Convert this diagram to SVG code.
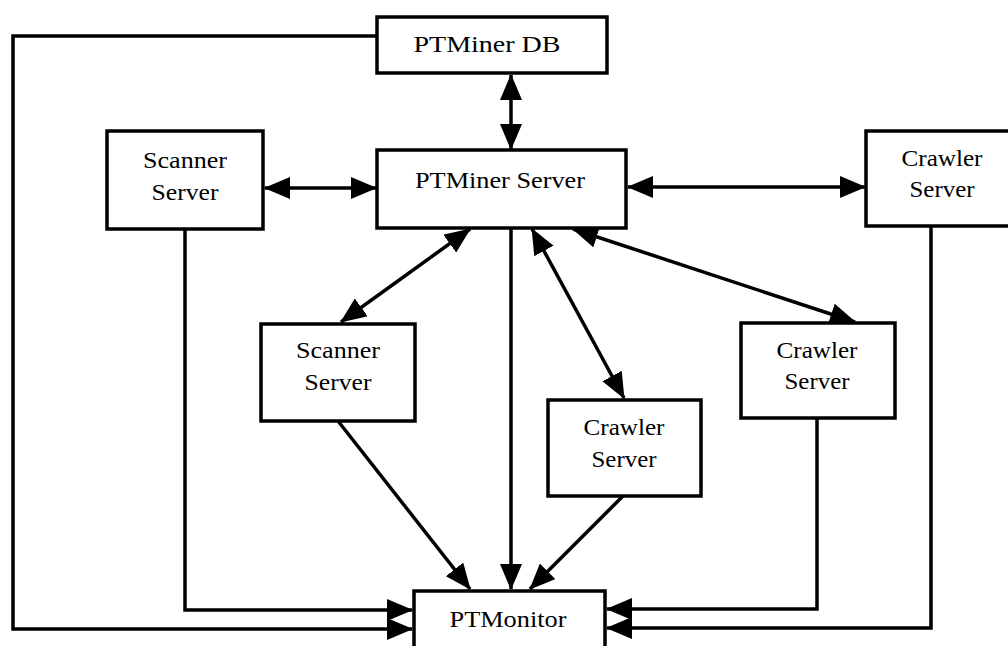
<svg xmlns="http://www.w3.org/2000/svg" width="1008" height="646" viewBox="0 0 1008 646">
<style>
.box{fill:#fff;stroke:#000;stroke-width:3.5}
.t{font-family:"Liberation Serif","Times New Roman",serif;font-size:23px;fill:#000;text-anchor:middle}
.c{fill:none;stroke:#000;stroke-width:3.5}
</style>
<defs>
<marker id="ah" markerUnits="userSpaceOnUse" markerWidth="26" markerHeight="22" refX="25" refY="11" orient="auto-start-reverse" viewBox="0 0 26 22">
<path d="M0,0 L26,11 L0,22 z" fill="#000"/>
</marker>
</defs>
<rect width="1008" height="646" fill="#fff"/>
<g id="connectors">
<line class="c" x1="511" y1="75" x2="511" y2="149" marker-start="url(#ah)" marker-end="url(#ah)"/>
<line class="c" x1="265" y1="188" x2="376" y2="188" marker-start="url(#ah)" marker-end="url(#ah)"/>
<line class="c" x1="628" y1="187" x2="865" y2="187" marker-start="url(#ah)" marker-end="url(#ah)"/>
<line class="c" x1="470" y1="229" x2="341" y2="322" marker-start="url(#ah)" marker-end="url(#ah)"/>
<line class="c" x1="532" y1="229" x2="624" y2="398" marker-start="url(#ah)" marker-end="url(#ah)"/>
<line class="c" x1="573" y1="229" x2="855" y2="322" marker-start="url(#ah)" marker-end="url(#ah)"/>
<line class="c" x1="511" y1="228" x2="511" y2="589" marker-end="url(#ah)"/>
<line class="c" x1="338" y1="421" x2="470" y2="589" marker-end="url(#ah)"/>
<line class="c" x1="623" y1="496" x2="530" y2="589" marker-end="url(#ah)"/>
<polyline class="c" points="185,229 185,610 412,610" marker-end="url(#ah)"/>
<polyline class="c" points="377,36 13,36 13,629 412,629" marker-end="url(#ah)"/>
<polyline class="c" points="817,418 817,609 607,609" marker-end="url(#ah)"/>
<polyline class="c" points="931,226 931,628 607,628" marker-end="url(#ah)"/>
</g>
<g id="ptminer-db">
<rect class="box" x="377" y="17" width="230" height="56"/>
<text class="t" x="487" y="52" textLength="147" lengthAdjust="spacingAndGlyphs">PTMiner DB</text>
</g>
<g id="scanner-server-1">
<rect class="box" x="107" y="131" width="156" height="98"/>
<text class="t" x="185" y="168" textLength="84" lengthAdjust="spacingAndGlyphs">Scanner</text>
<text class="t" x="185" y="200" textLength="67" lengthAdjust="spacingAndGlyphs">Server</text>
</g>
<g id="ptminer-server">
<rect class="box" x="377" y="150" width="249" height="78"/>
<text class="t" x="500" y="188" textLength="170" lengthAdjust="spacingAndGlyphs">PTMiner Server</text>
</g>
<g id="crawler-server-1">
<rect class="box" x="866" y="131" width="160" height="95"/>
<text class="t" x="942" y="166" textLength="81" lengthAdjust="spacingAndGlyphs">Crawler</text>
<text class="t" x="942" y="197" textLength="65" lengthAdjust="spacingAndGlyphs">Server</text>
</g>
<g id="scanner-server-2">
<rect class="box" x="261" y="324" width="154" height="97"/>
<text class="t" x="338" y="358" textLength="84" lengthAdjust="spacingAndGlyphs">Scanner</text>
<text class="t" x="338" y="390" textLength="67" lengthAdjust="spacingAndGlyphs">Server</text>
</g>
<g id="crawler-server-2">
<rect class="box" x="548" y="400" width="153" height="96"/>
<text class="t" x="624" y="435" textLength="81" lengthAdjust="spacingAndGlyphs">Crawler</text>
<text class="t" x="624" y="467" textLength="65" lengthAdjust="spacingAndGlyphs">Server</text>
</g>
<g id="crawler-server-3">
<rect class="box" x="741" y="323" width="154" height="95"/>
<text class="t" x="817" y="358" textLength="81" lengthAdjust="spacingAndGlyphs">Crawler</text>
<text class="t" x="817" y="389" textLength="65" lengthAdjust="spacingAndGlyphs">Server</text>
</g>
<g id="ptmonitor">
<rect class="box" x="414" y="591" width="191" height="70"/>
<text class="t" x="508" y="627" textLength="117" lengthAdjust="spacingAndGlyphs">PTMonitor</text>
</g>
</svg>
